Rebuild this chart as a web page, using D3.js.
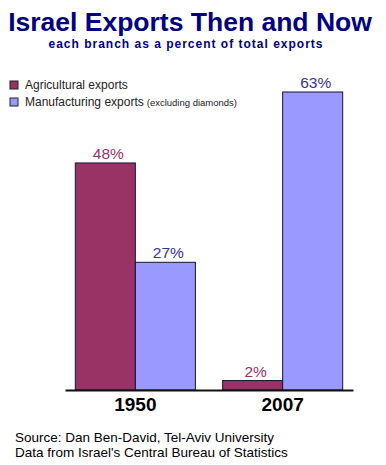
<!DOCTYPE html>
<html><head><meta charset="utf-8">
<script src="https://cdn.jsdelivr.net/npm/d3@7"></script>
<style>body{margin:0;background:#fff}svg{display:block;font-family:Arial,"Liberation Sans",sans-serif}</style>
</head><body><svg id="c" width="386" height="465"></svg>
<script>
const years = ["1950", "2007"];
const seriesNames = ["Agricultural exports", "Manufacturing exports"];
const agricultural = [48, 2];
const manufacturing = [27, 63];
const valueLabels = [["48%", "27%"], ["2%", "63%"]];

const fills = ["#993366", "#9999ff"];
const labelColors = ["#993366", "#333399"];

const svg = d3.select("#c");
svg.append("rect").attr("width",386).attr("height",465).attr("fill","#fff");

svg.append("text").attr("x",190).attr("y",31).attr("text-anchor","middle")
  .attr("font-size",26.5).attr("font-weight","bold").attr("fill","#000080")
  .text("Israel Exports Then and Now");
svg.append("text").attr("x",186).attr("y",48).attr("text-anchor","middle")
  .attr("font-size",12).attr("font-weight","bold").attr("fill","#000080")
  .attr("letter-spacing",1)
  .text("each branch as a percent of total exports");

const x0 = d3.scaleBand().domain(years).range([65,353]).paddingInner(0.185).paddingOuter(0.07);
const x1 = d3.scaleBand().domain(seriesNames).range([0,x0.bandwidth()]);
const y = d3.scaleLinear().domain([0,63]).range([390,92]);

const data = years.map((yr,i)=>({year:yr, vals:[agricultural[i], manufacturing[i]], labels:valueLabels[i]}));

const g = svg.selectAll("g.grp").data(data).join("g").attr("class","grp")
  .attr("transform",d=>`translate(${x0(d.year)},0)`);
g.selectAll("rect").data(d=>d.vals.map((v,j)=>({v,j,name:seriesNames[j]}))).join("rect")
  .attr("x",d=>x1(d.name)).attr("width",x1.bandwidth())
  .attr("y",d=>y(d.v)).attr("height",d=>y(0)-y(d.v))
  .attr("fill",d=>fills[d.j]).attr("stroke","#141433").attr("stroke-width",1);
g.selectAll("text.v").data(d=>d.vals.map((v,j)=>({v,j,name:seriesNames[j],lab:d.labels[j]}))).join("text")
  .attr("class","v").attr("x",d=>x1(d.name)+x1.bandwidth()/2+3).attr("y",d=>y(d.v)-4)
  .attr("text-anchor","middle").attr("font-size",15.5).attr("fill",d=>labelColors[d.j])
  .text(d=>d.lab);

const ax = svg.append("g").attr("transform","translate(0,390)")
  .call(d3.axisBottom(x0).tickSize(0).tickPadding(8));
ax.select(".domain").attr("stroke","#111").attr("stroke-width",2);
ax.selectAll("text").attr("font-size",19).attr("font-weight","bold").attr("fill","#000")
  .attr("font-family","Arial,'Liberation Sans',sans-serif");

// legend
const leg = svg.append("g");
seriesNames.forEach((n,i)=>{
  const yy = 81 + i*17;
  leg.append("rect").attr("x",10).attr("y",yy).attr("width",8).attr("height",8)
    .attr("fill",fills[i]).attr("stroke","#222").attr("stroke-width",1);
  const t = leg.append("text").attr("x",25).attr("y",yy+8).attr("font-size",12).attr("fill","#222").text(n);
  if(i===1) t.append("tspan").attr("font-size",9.5).attr("dx",3).text("(excluding diamonds)");
});

svg.append("text").attr("x",15).attr("y",442).attr("font-size",13.5).attr("fill","#000")
  .text("Source: Dan Ben-David, Tel-Aviv University");
svg.append("text").attr("x",15).attr("y",457).attr("font-size",13.5).attr("fill","#000")
  .text("Data from Israel's Central Bureau of Statistics");
</script></body></html>
